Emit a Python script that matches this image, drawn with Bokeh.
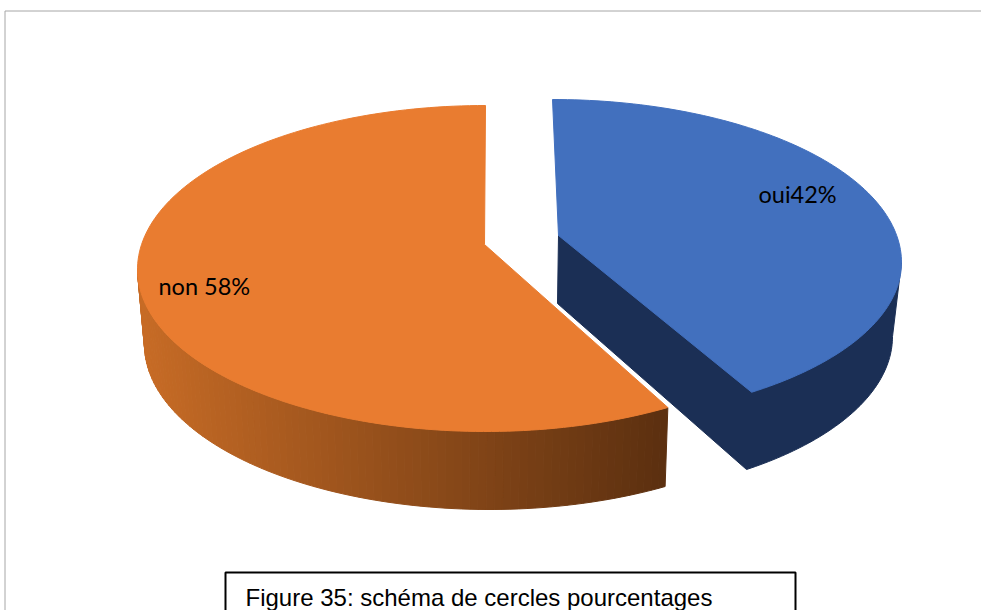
import numpy as np
from bokeh.core.properties import value
from bokeh.embed import file_html
from bokeh.models import Range1d
from bokeh.plotting import figure
from bokeh.resources import INLINE

# Data
categories = ["oui", "non"]
shares = [42, 58]
labels = ["oui42%", "non 58%"]
caption = "Figure 35: schéma de cercles pourcentages"

# Pixel-like frame of the page
W, H = 981, 610
PERSPECTIVE = 6.0  # degrees lost by the slice boundary in the tilted view


def rim(cx, cy, rx, ry_up, ry_down, deg):
    t = np.radians(deg)
    c = np.cos(t)
    ry = np.where(c >= 0, ry_up, ry_down)
    return cx + rx * np.sin(t), cy - ry * c


boundary = shares[0] / sum(shares) * 360 - PERSPECTIVE

p = figure(width=W, height=H, output_backend="svg", toolbar_location=None,
           x_range=Range1d(0, W), y_range=Range1d(H, 0),
           min_border=0, outline_line_color=None)
p.axis.visible = False
p.grid.visible = False

# Outer frame
p.line([4.5, 4.5, W], [H, 10.5, 10.5], line_color="#a6a6a6", line_width=1)

# --- Blue slice ---
BT = dict(cx=552, cy=262, rx=349, ry_up=163, ry_down=158)
BL = dict(cx=552, cy=336, rx=340, ry_up=163, ry_down=162)
blue_apex = (558, 235)
blue_apex_low = (557, 303)
tt = np.linspace(90, boundary, 60)
lx, ly = rim(**BL, deg=tt)
p.patch([blue_apex[0], blue_apex_low[0], *lx[::-1], *rim(**BT, deg=np.array([90.0]))[0]],
        [blue_apex[1], blue_apex_low[1], *ly[::-1], *rim(**BT, deg=np.array([90.0]))[1]],
        fill_color="#1b2f55", line_color="#1b2f55")
tt = np.linspace(0, boundary, 120)
bx, by = rim(**BT, deg=tt)
p.patch([blue_apex[0], *bx], [blue_apex[1], *by], fill_color="#4270be", line_color="#4270be")

# --- Orange slice ---
OT = dict(cx=485, cy=269, rx=348, ry_up=164, ry_down=162)
OL = dict(cx=489, cy=344, rx=345, ry_up=166, ry_down=165)
orange_apex = (484, 244)
start = boundary + 3.2
steps = np.linspace(start, 270, 90)
steps_low = np.linspace(start + 1, 270, 90)
c_dark = np.array([0x5c, 0x30, 0x10])
c_light = np.array([0xc8, 0x6c, 0x26])
xs, ys, cols = [], [], []
for i in range(len(steps) - 1):
    ux, uy = rim(**OT, deg=steps[i:i + 2])
    dx, dy = rim(**OL, deg=steps_low[i:i + 2])
    xs.append([ux[0], ux[1], dx[1], dx[0]])
    ys.append([uy[0], uy[1], dy[1], dy[0]])
    f = np.clip((668 - ux[0]) / (668 - 137), 0, 1)
    c = (c_dark + (c_light - c_dark) * f).astype(int)
    cols.append("#%02x%02x%02x" % tuple(c))
p.patches(xs, ys, fill_color=cols, line_color=cols, line_width=1)
tt = np.linspace(start, 360, 160)
ox, oy = rim(**OT, deg=tt)
p.patch([orange_apex[0], *ox], [orange_apex[1], *oy], fill_color="#e97c30", line_color="#e97c30")

# --- Labels ---
p.text([758], [193], text=[labels[0]], text_font=value("Lato"), text_font_size="23.5px",
       text_color="#000000", text_baseline="middle", text_align="left")
p.text([158], [285], text=[labels[1]], text_font=value("Lato"), text_font_size="23.5px",
       text_color="#000000", text_baseline="middle", text_align="left")

# --- Caption box ---
p.line([225, 225, 795, 795], [H, 572, 572, H], line_color="#000000", line_width=2)
p.text([245], [597], text=[caption], text_font=value("Liberation Sans"), text_font_size="24px",
       text_color="#000000", text_baseline="alphabetic", text_align="left")

open("out.html", "w").write(file_html(p, INLINE))
